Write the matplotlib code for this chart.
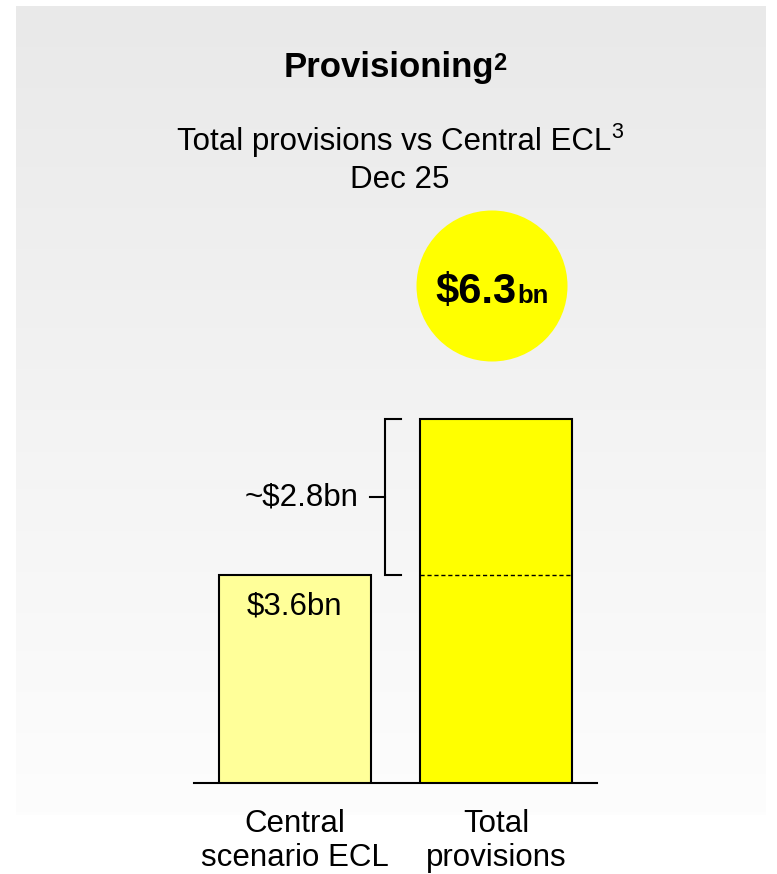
import numpy as np
import matplotlib
matplotlib.use("Agg")
import matplotlib.pyplot as plt
from matplotlib.patches import Circle

plt.rcParams['font.family'] = ['Liberation Sans', 'DejaVu Sans']

# ---- data ----
categories = ["Central\nscenario ECL", "Total\nprovisions"]
values = [3.6, 6.3]
bar_colors = ["#ffff99", "#ffff00"]
gap_label = "~$2.8bn"
central_label = "$3.6bn"
total_big = "$6.3"
total_unit = "bn"
title = "Provisioning"
title_sup = "2"
subtitle1 = "Total provisions vs Central ECL"
subtitle1_sup = "3"
subtitle2 = "Dec 25"

W, H = 777, 874
DPI = 100
fig = plt.figure(figsize=(W / DPI, H / DPI), dpi=DPI)
fig.patch.set_facecolor("white")

# background axes in pixel coordinates
bg = fig.add_axes([0, 0, 1, 1])
bg.set_xlim(0, W)
bg.set_ylim(H, 0)
bg.axis("off")
grad = np.linspace(233, 253, 256)[:, None] / 255.0
grad_img = np.dstack([grad, grad, grad])
bg.imshow(grad_img, extent=(16, 766, 815, 6), aspect="auto", zorder=0)
bg.add_patch(Circle((492, 286), 75.5, facecolor="#ffff00", edgecolor="none", zorder=2))
bg.text(517, 303, total_big, ha="right", va="baseline", fontsize=30, fontweight="bold", zorder=3)
bg.text(517, 303, total_unit, ha="left", va="baseline", fontsize=18.5, fontweight="bold", zorder=3)

renderer = fig.canvas.get_renderer()


def text_with_sup(xc, yb, main, sup, size, sup_size, raise_px, weight, gap):
    t = bg.text(0, 0, main, ha="left", va="baseline", fontsize=size, fontweight=weight)
    s = bg.text(0, 0, sup, ha="left", va="baseline", fontsize=sup_size, fontweight=weight)
    wm = t.get_window_extent(renderer).width
    ws = s.get_window_extent(renderer).width
    x0 = xc - (wm + ws + gap) / 2
    t.set_position((x0, yb))
    s.set_position((x0 + wm + gap, yb - raise_px))


text_with_sup(395, 77, title, title_sup, 25, 17, 7, "bold", -1)
text_with_sup(400, 150, subtitle1, subtitle1_sup, 22.5, 15.5, 12, "normal", 0)
bg.text(400, 188, subtitle2, ha="center", va="baseline", fontsize=22.5)

# bar axes
ax = fig.add_axes([194 / W, (H - 783) / H, 403 / W, 404 / H])
ax.patch.set_alpha(0)
x = np.arange(len(values))
bw = 0.752
ax.bar(x, values, width=bw, color=bar_colors, edgecolor="black", linewidth=1.5, zorder=3)
ax.set_xlim(-0.5, 1.5)
ax.set_ylim(0, 7)
for s in ["top", "right", "left"]:
    ax.spines[s].set_visible(False)
ax.spines["bottom"].set_linewidth(1.5)
ax.set_yticks([])
ax.set_xticks(x)
ax.set_xticklabels(categories, fontsize=22.5, linespacing=1.17)
ax.tick_params(axis="x", length=0, pad=19)

# dashed line at central level inside total bar
ax.plot([x[1] - bw / 2, x[1] + bw / 2], [values[0], values[0]], color="black",
        linestyle=(0, (3, 2)), linewidth=1, zorder=4)
# central label
ax.text(x[0], values[0] - 0.55, central_label, ha="center", va="center", fontsize=22.5, zorder=5)

# bracket
bx = 0.45
bt = 0.525
ax.plot([bt, bx, bx, bt], [values[1], values[1], values[0], values[0]], color="black",
        linewidth=1.5, solid_joinstyle="miter", zorder=4)
mid = (values[0] + values[1]) / 2
ax.plot([0.371, bx], [mid, mid], color="black", linewidth=1.5, zorder=4)
ax.text(0.317, mid, gap_label, ha="right", va="center", fontsize=22.5)

fig.savefig("out.png", dpi=DPI)
